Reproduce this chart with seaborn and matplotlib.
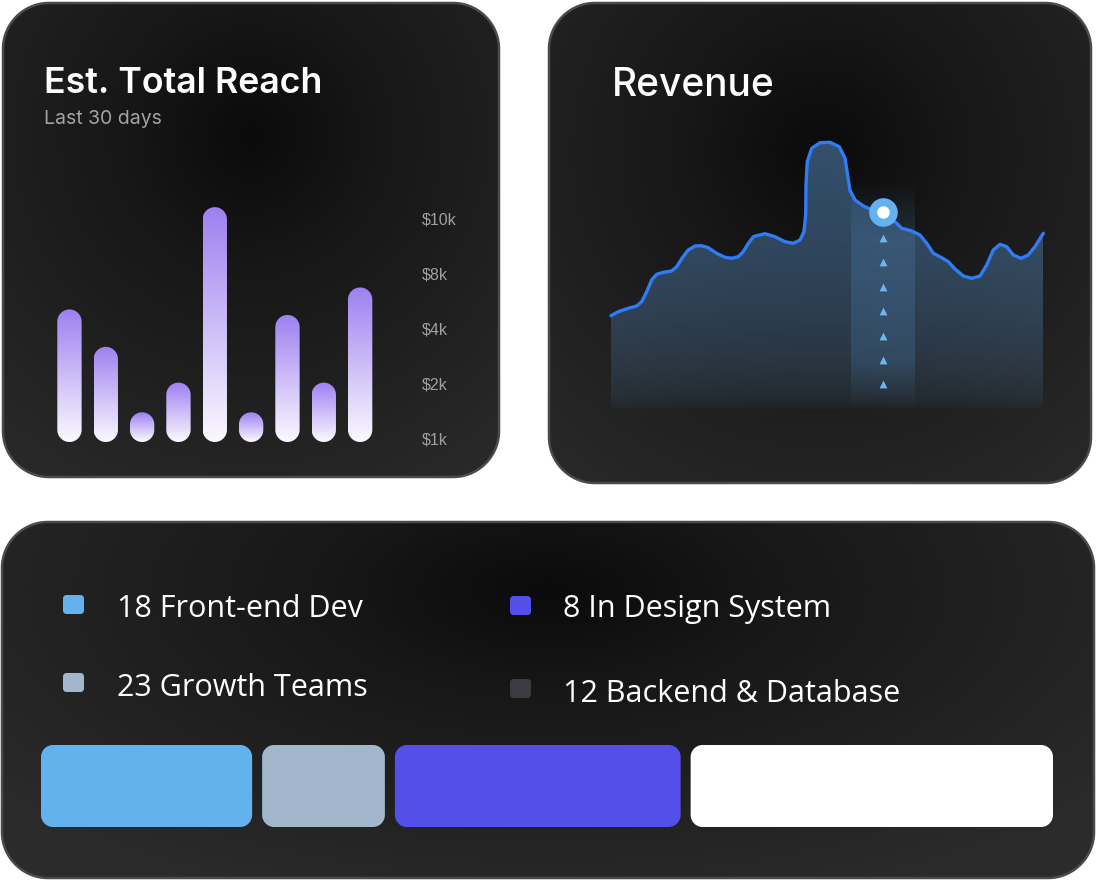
import numpy as np
import matplotlib
matplotlib.use("Agg")
import matplotlib.pyplot as plt
import seaborn as sns
from matplotlib.patches import Polygon
from matplotlib.transforms import IdentityTransform, ScaledTranslation
from matplotlib.colors import to_rgb

# ---- data ----
reach_days = ['d1', 'd2', 'd3', 'd4', 'd5', 'd6', 'd7', 'd8', 'd9']
reach_level = [2.41, 1.73, 0.54, 1.08, 4.27, 0.54, 2.31, 1.08, 2.81]
reach_ticks = ['$1k', '$2k', '$4k', '$8k', '$10k']

rev_day = [0.00, 0.51, 1.20, 1.78, 2.13, 2.48, 2.82, 3.17, 3.63, 4.21, 4.56,
           4.95, 5.36, 5.83, 6.29, 6.75, 7.33, 7.91, 8.38, 8.83, 9.18, 9.53,
           9.88, 10.11, 10.69, 11.38, 12.07, 12.65, 13.12, 13.39, 13.51,
           13.53, 13.62, 13.93, 14.50, 15.20, 15.84, 16.24, 16.42, 16.58,
           16.93, 17.51, 17.97, 18.85, 19.83, 20.17, 20.87, 21.44, 21.91,
           22.37, 22.95, 23.41, 23.87, 24.45, 25.03, 25.61, 26.07, 26.53,
           27.00, 27.46, 27.92, 28.45, 28.96, 29.42, 30.00]
rev_value = [9.43, 9.83, 10.17, 10.40, 10.83, 11.83, 13.00, 13.57, 13.77,
             13.90, 14.33, 15.23, 16.00, 16.40, 16.43, 16.23, 15.67, 15.27,
             15.17, 15.33, 15.83, 16.67, 17.33, 17.43, 17.63, 17.33, 16.83,
             16.67, 17.00, 17.83, 19.50, 22.50, 24.83, 26.17, 26.73, 26.77,
             26.33, 25.17, 23.50, 22.00, 21.00, 20.40, 20.10, 19.83, 18.67,
             18.17, 17.90, 17.50, 16.67, 15.67, 15.23, 14.83, 14.10, 13.40,
             13.17, 13.40, 14.50, 16.00, 16.57, 16.33, 15.50, 15.17, 15.50,
             16.33, 17.67]
rev_focus_day = 18.85
rev_focus_value = 19.83
rev_window = [16.66, 21.10]
rev_guide = [17.2, 14.75, 12.3, 9.85, 7.4, 5.0, 2.6]

team_labels = ['18 Front-end Dev', '23 Growth Teams',
               '8 In Design System', '12 Backend & Database']
team_colors = ['#63b1ed', '#a2b7cc', '#534fe8', '#3b3b42']
share_values = [21.5, 12.5, 29.1, 36.9]
share_colors = ['#63b1ed', '#a2b7cc', '#534fe8', '#ffffff']

W, H = 1096, 880
fig = plt.figure(figsize=(W / 100, H / 100), dpi=100, facecolor='white')

# pixel canvas for cards and texts
bg = fig.add_axes([0, 0, 1, 1], zorder=-10)
bg.set_axis_off()


def px_axes(x0, y0, x1, y1):
    a = fig.add_axes([x0 / W, 1 - y1 / H, (x1 - x0) / W, (y1 - y0) / H])
    a.patch.set_alpha(0)
    return a


def round_rect(x0, y0, w, h, r, n=24):
    # rounded rectangle outline with circular corners
    r = min(r, abs(w) / 2, abs(h) / 2)
    x1, y1 = x0 + w, y0 + h
    pts = []
    for cx, cy, a0 in [(x1 - r, y0 + r, -90), (x1 - r, y1 - r, 0),
                       (x0 + r, y1 - r, 90), (x0 + r, y0 + r, 180)]:
        ang = np.radians(np.linspace(a0, a0 + 90, n))
        pts.append(np.column_stack([cx + r * np.cos(ang), cy + r * np.sin(ang)]))
    return np.vstack(pts)


def card(x0, y0, x1, y1, cx, cy, rx, ry):
    box = Polygon(round_rect(x0, y0, x1 - x0, y1 - y0, 46), closed=True,
                  fc='none', ec='#4a4a4a', lw=1.8, zorder=3)
    bg.add_patch(box)
    yy, xx = np.mgrid[y0:y1, x0:x1]
    d = np.hypot((xx - cx) / rx, (yy - cy) / ry)
    v = (11 + 5 * np.clip(d * 3.3, 0, 1) + 27 * np.clip(d, 0, 1) ** 1.1) / 255
    im = bg.imshow(np.dstack([v, v, v]), extent=(x0, x1, y1, y0),
                   origin='upper', aspect='auto', zorder=1)
    im.set_clip_path(box)


card(3, 3, 499, 477, 250, 135, 430, 430)
card(549, 3, 1091, 483, 820, 150, 450, 450)
card(2, 522, 1094, 878, 548, 590, 720, 330)
bg.set_xlim(0, W)
bg.set_ylim(H, 0)


def rounded(ax, bar, radius, fill='none', grad=None):
    x0, y0 = bar.get_x(), bar.get_y()
    x1, y1 = x0 + bar.get_width(), y0 + bar.get_height()
    (a, b), (c, d) = ax.transData.transform([(x0, y0), (x1, y1)])
    shape = Polygon(round_rect(a, b, c - a, d - b, radius), closed=True,
                    transform=IdentityTransform(), lw=0, fc=fill)
    ax.add_patch(shape)
    shape.set_clip_on(False)
    bar.set_visible(False)
    if grad is not None:
        im = ax.imshow(grad, extent=(x0, x1, y0, y1), origin='upper',
                       aspect='auto', zorder=3)
        im.set_clip_path(shape)


# ---- card 1: Est. Total Reach ----
bg.text(44, 93, 'Est. Total Reach', fontsize=25.7, weight='semibold',
        family='Inter', color='white', va='baseline')
bg.text(44, 124, 'Last 30 days', fontsize=14, family='Inter',
        color='#a3a3a3', va='baseline')

ax1 = px_axes(51.3, 442 - 4.5 * 55, 51.3 + 327, 442)
sns.barplot(x=reach_days, y=reach_level, ax=ax1, width=0.67,
            color='#a083f0', saturation=1, errorbar=None)
ax1.set_xlim(-0.5, 8.5)
ax1.set_ylim(0, 4.5)
ax1.set_autoscale_on(False)
top, bottom = np.array(to_rgb('#9e80f0')), np.array(to_rgb('#fbf9ff'))
t = np.linspace(0, 1, 256)[:, None]
purple = (top * (1 - t) + bottom * t)[:, None, :]
for bar in list(ax1.patches):
    rounded(ax1, bar, 12.2, grad=purple)
ax1.set_xlim(-0.5, 8.5)
ax1.set_ylim(0, 4.5)
for s in ax1.spines.values():
    s.set_visible(False)
ax1.set_xticks([])
ax1.yaxis.tick_right()
ax1.set_yticks(range(len(reach_ticks)), reach_ticks)
ax1.tick_params(axis='y', length=0, pad=31.5, labelsize=11.5,
                labelcolor='#a0a0a0')
for lab in ax1.get_yticklabels():
    lab.set_fontfamily('Liberation Sans')
    lab.set_transform(lab.get_transform() +
                      ScaledTranslation(0, 0.04, fig.dpi_scale_trans))

# ---- card 2: Revenue ----
bg.text(612, 96.5, 'Revenue', fontsize=28, weight='medium',
        family='Inter', color='white', va='baseline')

ax2 = px_axes(611, 130, 1043.3, 410)
ax2.set_axis_off()
fill = ax2.fill_between(rev_day, rev_value, 0, fc='none', ec='none')
ys = np.linspace(0, 28, 300)[:, None]
area = np.zeros((300, 1, 4))
area[..., :3] = to_rgb('#5080b0')
area[..., 3] = 0.6 * np.clip(ys / 27, 0, 1) ** 0.5
im = ax2.imshow(area, extent=(0, 30, 0, 28), origin='lower',
                aspect='auto', zorder=1)
im.set_clip_path(fill.get_paths()[0], ax2.transData)

col = np.zeros((300, 1, 4))
col[..., :3] = to_rgb('#5a9ad8')
ycol = np.linspace(0, 23, 300)[:, None]
col[..., 3] = 0.2 * np.clip(ycol / 5, 0, 1) * np.clip((23 - ycol) / 6, 0, 1)
ax2.imshow(col, extent=(rev_window[0], rev_window[1], 0, 23),
           origin='lower', aspect='auto', zorder=2)

sns.lineplot(x=rev_day, y=rev_value, ax=ax2, color='#2f7cf6',
             linewidth=2.4, estimator=None, sort=False, zorder=4)
for ln in ax2.lines:
    ln.set_solid_capstyle('round')
    ln.set_solid_joinstyle('round')
    ln.set_clip_on(False)
sns.scatterplot(x=[rev_focus_day] * len(rev_guide), y=rev_guide, ax=ax2,
                marker='^', s=32, color='#6db6f2', linewidth=0, zorder=5)
ax2.plot([rev_focus_day], [rev_focus_value], 'o', ms=20.6, color='#64b1f0',
         mec='none', zorder=6, clip_on=False)
ax2.plot([rev_focus_day], [rev_focus_value], 'o', ms=9, color='white',
         mec='none', zorder=7, clip_on=False)
ax2.set_xlim(0, 30)
ax2.set_ylim(0, 28)

# ---- card 3: teams ----
legend_pos = [(63, 595, 117, 617), (63, 673, 117, 696),
              (510, 596, 563, 617), (510, 679, 563, 702)]
for (sx, sy, tx, ty), lab, c in zip(legend_pos, team_labels, team_colors):
    bg.add_patch(Polygon(round_rect(sx, sy, 21, 19, 3.5), closed=True,
                         fc=c, ec='none', zorder=4))
    bg.text(tx, ty, lab, fontsize=22, family='Open Sans', color='white',
            va='baseline', zorder=5)

ax3 = px_axes(41, 745, 1053, 827)
ax3.set_axis_off()
gap = 100 * 10 / 982
starts = np.cumsum([0] + share_values[:-1]) + gap * np.arange(len(share_values))
bars = ax3.barh(0.5, share_values, left=starts, height=1, color=share_colors)
ax3.set_xlim(0, 100 + gap * (len(share_values) - 1))
ax3.set_ylim(0, 1)
ax3.set_autoscale_on(False)
for bar, c in zip(list(bars), share_colors):
    rounded(ax3, bar, 12, fill=c)

fig.savefig('out.png', dpi=100, facecolor='white')
